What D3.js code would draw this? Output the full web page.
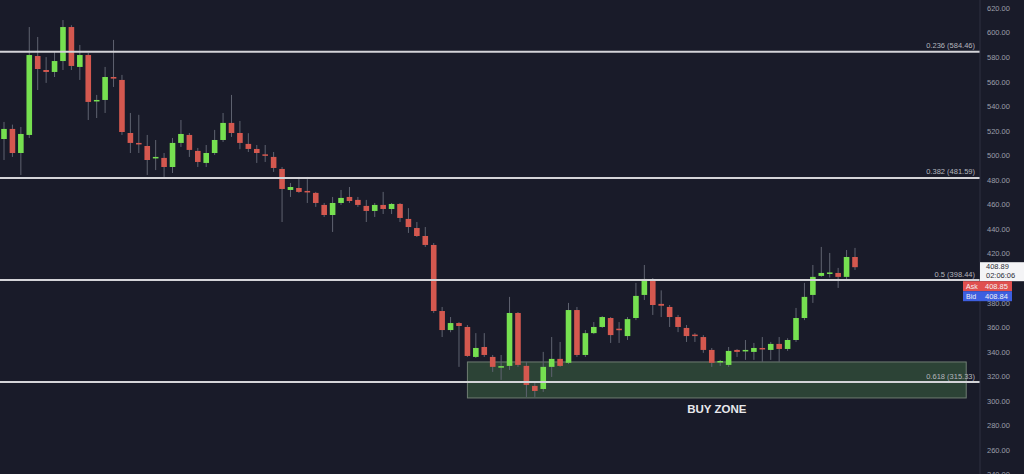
<!DOCTYPE html>
<html>
<head>
<meta charset="utf-8">
<style>
html, body { margin: 0; padding: 0; background: #191b29; }
svg { display: block; font-family: "Liberation Sans", Arial, sans-serif; }
</style>
</head>
<body>
<svg width="1024" height="474"></svg>
<script src="https://d3js.org/d3.v7.min.js"></script>
<script>

// candle data
var opens = [513.3,521.5,501.9,516.6,580.9,569.5,567.9,576.8,604.5,572.0,581.7,544.0,545.1,563.8,561.4,518.2,510.1,507.6,497.5,497.9,
  490.5,510.1,516.6,503.6,493.8,501.9,512.5,526.4,518.2,509.3,505.2,500.8,498.7,488.9,471.8,473.4,471.0,469.4,459.6,451.4,
  461.2,466.1,463.7,458.8,454.7,459.6,456.3,460.4,448.2,440.8,434.3,427.0,373.2,357.7,363.4,360.2,335.8,343.9,335.8,327.7,
  328.5,371.6,328.5,312.2,309.7,327.7,334.2,331.0,374.0,337.4,355.2,360.2,367.5,358.8,352.8,367.5,386.3,398.5,379.0,376.5,
  368.3,359.4,354.0,352.0,341.5,331.8,329.3,341.5,341.0,339.9,343.1,341.5,346.4,342.3,349.6,367.5,386.3,401.8,403.5,404.2,
  401.0,417.2];
var highs = [527.2,525.0,523.1,604.5,596.4,580.0,584.0,610.2,606.0,589.9,583.4,549.2,572.0,594.0,565.5,534.5,533.0,516.6,512.5,501.9,
  514.1,528.8,518.2,506.0,508.4,520.7,534.5,549.2,528.0,518.0,508.4,508.4,502.7,490.5,477.5,482.4,482.4,470.2,461.2,466.1,
  471.8,474.2,466.1,463.7,461.2,470.2,461.2,461.2,457.0,445.7,441.6,428.6,376.5,368.3,364.2,361.8,355.2,355.2,337.4,337.4,
  384.7,372.4,331.8,315.4,339.9,352.0,348.0,379.8,376.5,357.7,364.2,369.1,368.3,364.2,368.3,396.1,410.7,400.1,390.0,378.1,
  370.0,361.8,355.2,353.6,343.1,333.4,343.9,342.3,349.6,347.2,352.0,348.0,352.0,351.0,375.7,396.1,410.7,425.4,420.5,408.3,
  422.9,424.6];
var lows = [496.2,498.7,484.0,514.1,553.2,559.0,563.8,569.5,569.5,561.4,528.8,530.4,534.5,555.7,516.6,501.9,501.9,484.0,488.0,482.4,
  485.6,506.8,498.7,490.5,490.5,500.3,510.9,515.0,505.0,502.7,493.8,494.6,486.5,445.7,466.1,469.4,461.2,458.0,449.8,437.6,
  459.6,461.2,458.0,445.7,449.8,452.2,452.2,445.7,436.8,433.5,425.4,371.6,352.0,355.9,327.7,335.8,335.0,335.8,323.6,317.1,
  325.2,327.7,303.2,303.2,307.3,319.5,327.7,330.0,335.8,335.8,354.4,359.4,347.2,347.2,349.6,365.8,382.2,370.0,368.3,360.2,
  356.0,348.0,348.0,339.1,327.7,328.5,327.7,335.8,333.4,333.4,331.8,333.4,331.8,340.7,348.0,365.8,379.8,401.0,400.5,392.0,
  398.5,406.7];
var closes = [521.5,501.9,517.4,581.7,570.3,567.9,576.8,604.5,572.8,581.7,543.5,545.1,563.8,562.5,519.0,510.1,509.5,496.2,498.7,490.5,
  510.1,517.4,504.4,494.6,501.9,512.5,526.4,518.2,510.1,505.2,501.9,500.3,489.7,472.6,474.2,470.2,470.5,461.2,451.4,461.2,
  465.3,462.8,459.6,454.7,459.6,456.3,460.4,449.0,441.6,434.3,427.0,373.2,357.7,363.4,361.0,336.6,343.1,337.4,327.7,328.3,
  371.6,329.3,313.0,308.1,327.7,334.2,328.5,374.0,337.4,355.2,360.2,368.3,353.6,358.0,366.6,385.5,399.3,378.1,377.5,368.3,
  360.2,352.8,353.2,341.5,331.0,332.5,340.7,339.9,341.5,343.1,342.3,346.4,342.3,349.6,367.5,384.7,401.0,404.2,404.6,401.0,
  417.2,408.9];

// fibonacci retracement levels
var fibRatios = ["0.236", "0.382", "0.5", "0.618"];
var fibPrices = [584.46, 481.59, 398.44, 315.33];

// buy zone (price range, candle index range)
var zonePrices = [302.4, 331.7];
var zoneIndex = [55, 114.2];
var zoneLabel = "BUY ZONE";

// price axis ticks (400 sits under the last price tag)
var yTicks = [240,260,280,300,320,340,360,380,420,440,460,480,500,520,540,560,580,600,620];

// last price / ask / bid tags
var lastPrice = 408.89, lastTimer = "02:06:06";
var askPrice = 408.85, bidPrice = 408.84;

var svg = d3.select("svg"),
    W = +svg.attr("width"), H = +svg.attr("height"),
    axisX = 980;

svg.append("rect").attr("width", W).attr("height", H).attr("fill", "#191b29");

var y = d3.scaleLinear().domain([260, 620]).range([450, 8]);
var x = d3.scaleLinear().domain([0, opens.length - 1]).range([4, 855]);
var bodyW = 5.6;

var data = opens.map(function(o, i) {
  return {i: i, o: o, h: highs[i], l: lows[i], c: closes[i]};
});

// buy zone box
svg.append("rect")
    .attr("x", x(zoneIndex[0]))
    .attr("y", y(zonePrices[1]))
    .attr("width", x(zoneIndex[1]) - x(zoneIndex[0]))
    .attr("height", y(zonePrices[0]) - y(zonePrices[1]))
    .attr("fill", "#33523b")
    .attr("fill-opacity", 0.75)
    .attr("stroke", "#6f7d72")
    .attr("stroke-width", 1);

svg.append("text")
    .attr("x", (x(zoneIndex[0]) + x(zoneIndex[1])) / 2)
    .attr("y", y(zonePrices[0]) + 15)
    .attr("text-anchor", "middle")
    .attr("fill", "#e8e8ec")
    .attr("font-weight", "bold")
    .style("font-size", "11.5px")
    .text(zoneLabel);

// candles
var candle = svg.append("g").selectAll("g")
  .data(data)
  .enter().append("g");

candle.append("line")
    .attr("x1", function(d) { return x(d.i); })
    .attr("x2", function(d) { return x(d.i); })
    .attr("y1", function(d) { return y(d.h); })
    .attr("y2", function(d) { return y(d.l); })
    .attr("stroke", "#5f6370")
    .attr("stroke-width", 1);

candle.append("rect")
    .attr("x", function(d) { return x(d.i) - bodyW / 2; })
    .attr("y", function(d) { return y(Math.max(d.o, d.c)); })
    .attr("width", bodyW)
    .attr("height", function(d) { return Math.max(1.5, Math.abs(y(d.o) - y(d.c))); })
    .attr("fill", function(d) { return d.c >= d.o ? "#76e050" : "#d4584f"; });

// fib lines
var fib = svg.append("g").selectAll("g")
  .data(fibPrices)
  .enter().append("g");

fib.append("line")
    .attr("x1", 0).attr("x2", axisX)
    .attr("y1", function(d) { return y(d); })
    .attr("y2", function(d) { return y(d); })
    .attr("stroke", "#d4d4d8")
    .attr("stroke-width", 2);

fib.append("text")
    .attr("x", 975)
    .attr("y", function(d) { return y(d) - 3.5; })
    .attr("text-anchor", "end")
    .attr("fill", "#b4b6bd")
    .style("font-size", "7.5px")
    .text(function(d, i) { return fibRatios[i] + " (" + d.toFixed(2) + ")"; });

// price axis
svg.append("line")
    .attr("x1", axisX).attr("x2", axisX)
    .attr("y1", 0).attr("y2", H)
    .attr("stroke", "#2e3140");

var axis = svg.append("g")
    .attr("transform", "translate(" + (axisX + 4) + ",0)")
    .call(d3.axisRight(y).tickValues(yTicks).tickSize(0).tickFormat(d3.format(".2f")));
axis.select(".domain").remove();
axis.selectAll("text")
    .attr("fill", "#9c9fa9")
    .style("font-size", "7.5px")
    .style("font-family", "Liberation Sans, Arial, sans-serif");

// last price tag
var ly = y(lastPrice);
svg.append("rect").attr("x", 980).attr("y", ly - 5).attr("width", 44).attr("height", 19).attr("fill", "#f4f4f6");
svg.append("text").attr("x", 986).attr("y", ly + 2).attr("fill", "#2b2d36").style("font-size", "7.5px").text(lastPrice.toFixed(2));
svg.append("text").attr("x", 986).attr("y", ly + 11).attr("fill", "#2b2d36").style("font-size", "7.5px").text(lastTimer);

// ask / bid tags
var tags = [["Ask", askPrice, "#e0504e"], ["Bid", bidPrice, "#3d5fe0"]];
tags.forEach(function(t, k) {
  var ty = ly + 14 + k * 10;
  svg.append("rect").attr("x", 963).attr("y", ty).attr("width", 49).attr("height", 10).attr("fill", t[2]);
  svg.append("text").attr("x", 966).attr("y", ty + 7.5).attr("fill", "#f2f2f2").style("font-size", "7px").text(t[0]);
  svg.append("text").attr("x", 985).attr("y", ty + 7.5).attr("fill", "#f2f2f2").style("font-size", "7.5px").text(t[1].toFixed(2));
});

</script>
</body>
</html>
